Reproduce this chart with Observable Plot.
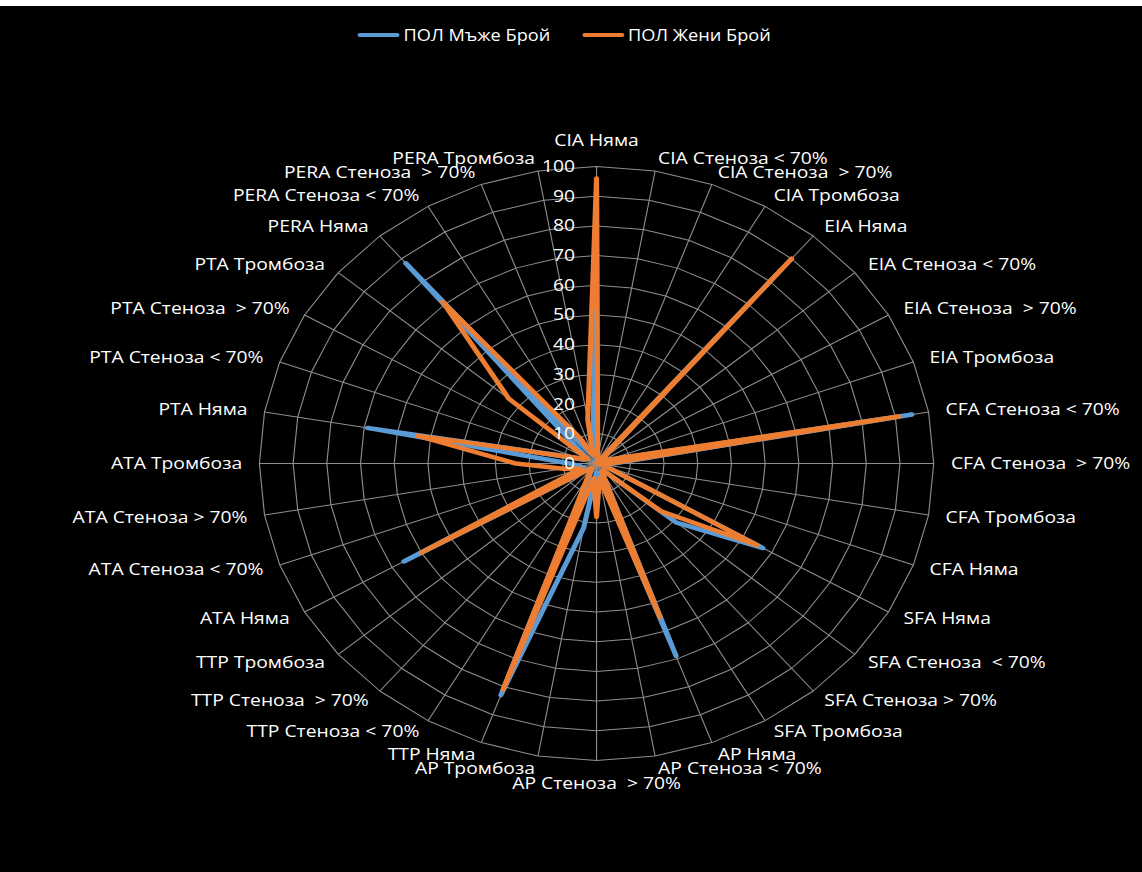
<!DOCTYPE html>
<html>
<head>
<meta charset="utf-8">
<script src="https://cdn.jsdelivr.net/npm/d3@7"></script>
<script src="https://cdn.jsdelivr.net/npm/@observablehq/plot@0.6"></script>
<style>
  html, body { margin: 0; padding: 0; background: #000; }
  body { width: 1142px; height: 872px; overflow: hidden; border-top: 6px solid #fff; box-sizing: border-box; }
  #wrap { width: 1006px; transform: scaleX(1.1352); transform-origin: 0 0; font-family: "Open Sans", sans-serif; color: #fff; }
  .legend { height: 58px; display: flex; justify-content: center; align-items: center; gap: 28px; padding-right: 12px; font-size: 16px; }
  .item { display: flex; align-items: center; }
  .swatch { width: 37px; height: 4px; border-radius: 2px; margin-right: 3.5px; }
  svg text { white-space: pre; }
</style>
</head>
<body>
<div id="wrap">
  <div class="legend" id="legend"></div>
  <div id="chart"></div>
</div>
<script>
// Categories around the radar, clockwise from the top
const categories = [
  "CIA Няма", "CIA Стеноза < 70%", "CIA Стеноза  > 70%", "CIA Тромбоза",
  "EIA Няма", "EIA Стеноза < 70%", "EIA Стеноза  > 70%", "EIA Тромбоза",
  "CFA Стеноза < 70%", "CFA Стеноза  > 70%", "CFA Тромбоза", "CFA Няма",
  "SFA Няма", "SFA Стеноза  < 70%", "SFA Стеноза > 70%", "SFA Тромбоза",
  "AP Няма", "AP Стеноза < 70%", "AP Стеноза  > 70%", "AP Тромбоза",
  "TTP Няма", "TTP Стеноза < 70%", "TTP Стеноза  > 70%", "TTP Тромбоза",
  "ATA Няма", "ATA Стеноза < 70%", "ATA Стеноза > 70%", "ATA Тромбоза",
  "PTA Няма", "PTA Стеноза < 70%", "PTA Стеноза  > 70%", "PTA Тромбоза",
  "PERA Няма", "PERA Стеноза < 70%", "PERA Стеноза  > 70%", "PERA Тромбоза"
];

// Counts per category
const seriesNames = ["ПОЛ Мъже Брой", "ПОЛ Жени Брой"];
const male = [
  92, 1, 0, 0,
  85, 2, 1, 3,
  95, 5, 2, 3,
  57, 31, 3, 3,
  69, 4, 3, 22,
  83, 4, 2, 3,
  66, 4, 5, 8,
  69, 5, 3, 6,
  88, 5, 3, 6
];
const female = [
  96, 2, 1, 0,
  90, 2, 1, 4,
  91, 4, 1, 3,
  55, 25, 3, 3,
  55, 5, 18, 5,
  81, 5, 2, 3,
  60, 5, 10, 24,
  54, 5, 3, 34,
  71, 10, 3, 15
];
const radialTicks = [0, 10, 20, 30, 40, 50, 60, 70, 80, 90, 100];
const colors = ["#5B9BD5", "#ED7D31"];

// Legend
const legend = document.getElementById("legend");
seriesNames.forEach((name, k) => {
  const item = document.createElement("div");
  item.className = "item";
  item.innerHTML = `<span class="swatch" style="background:${colors[k]}"></span><span>${name}</span>`;
  legend.appendChild(item);
});

// Polar helpers: angle measured clockwise from the top
const n = categories.length;
const ang = i => (i * 2 * Math.PI) / n;
const polar = (i, r) => ({x: r * Math.sin(ang(i)), y: r * Math.cos(ang(i))});
const maxR = radialTicks[radialTicks.length - 1];

const rings = radialTicks.slice(1).flatMap(t => categories.map((c, i) => ({t, ...polar(i, t)})));
const spokes = categories.map((c, i) => ({i, ...polar(i, maxR)}));
const toPoints = (vals, s) => vals.map((v, i) => ({s, ...polar(i, v)}));
const malePts = toPoints(male, seriesNames[0]);
const femalePts = toPoints(female, seriesNames[1]);

// Category labels sit just outside the outer ring
const labels = categories.map((c, i) => ({
  c, i,
  x: 1.051 * maxR * Math.sin(ang(i)),
  y: 1.042 * maxR * Math.cos(ang(i))
}));
const rightLabels = labels.filter(d => d.i > 0 && d.i < n / 2);
const leftLabels = labels.filter(d => d.i > n / 2);
const topLabel = labels.filter(d => d.i === 0);
const bottomLabel = labels.filter(d => d.i === n / 2);

const width = 1006, height = 808;
const cx = 525, cy = 399, R = 297;
const fs = 17;

const chart = Plot.plot({
  width, height,
  margin: 0,
  x: {domain: [-maxR, maxR], range: [cx - R, cx + R], axis: null},
  y: {domain: [-maxR, maxR], range: [cy + R, cy - R], axis: null},
  style: {background: "transparent", color: "#fff", fontFamily: "'Open Sans', sans-serif"},
  marks: [
    Plot.line(rings, {x: "x", y: "y", z: "t", curve: "linear-closed", stroke: "#8e8e8e", strokeWidth: 1}),
    Plot.link(spokes, {x1: 0, y1: 0, x2: "x", y2: "y", stroke: "#8e8e8e", strokeWidth: 1}),
    Plot.line(malePts, {x: "x", y: "y", curve: "linear-closed", stroke: colors[0], strokeWidth: 4.5, strokeLinejoin: "round", strokeLinecap: "round"}),
    Plot.line(femalePts, {x: "x", y: "y", curve: "linear-closed", stroke: colors[1], strokeWidth: 4.5, strokeLinejoin: "round", strokeLinecap: "round"}),
    Plot.text(radialTicks, {x: 0, y: d => d, text: d => String(d), textAnchor: "end", dx: -19, fill: "#fff", fontSize: fs}),
    Plot.text(rightLabels, {x: "x", y: "y", text: "c", textAnchor: "start", fill: "#fff", fontSize: fs}),
    Plot.text(leftLabels, {x: "x", y: "y", text: "c", textAnchor: "end", fill: "#fff", fontSize: fs}),
    Plot.text(topLabel, {x: "x", y: "y", text: "c", textAnchor: "middle", dy: -13, fill: "#fff", fontSize: fs}),
    Plot.text(bottomLabel, {x: "x", y: "y", text: "c", textAnchor: "middle", dy: 11, fill: "#fff", fontSize: fs})
  ]
});
document.getElementById("chart").appendChild(chart);
</script>
</body>
</html>
